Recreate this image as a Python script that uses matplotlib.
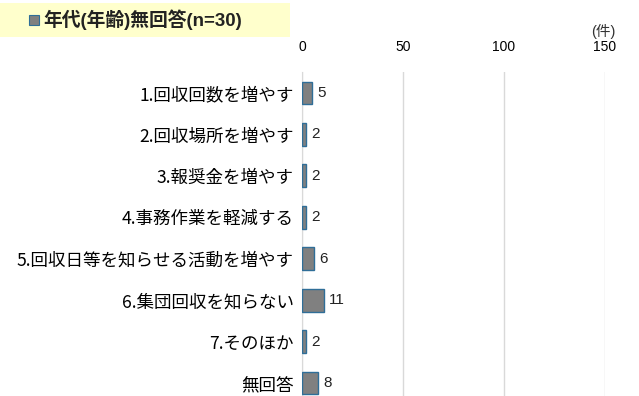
import matplotlib
matplotlib.use("Agg")
import matplotlib.pyplot as plt

plt.rcParams['font.family'] = ['Liberation Sans', 'Noto Sans CJK JP', 'DejaVu Sans']

categories = ['1.回収回数を増やす', '2.回収場所を増やす', '3.報奨金を増やす', '4.事務作業を軽減する',
              '5.回収日等を知らせる活動を増やす', '6.集団回収を知らない', '7.そのほか', '無回答']
values = [5, 2, 2, 2, 6, 11, 2, 8]
ticks = [0, 50, 100, 150]

fig = plt.figure(figsize=(6.39, 3.96), dpi=100)
ax = fig.add_axes([302 / 639, 1 - 403.7 / 396, 303 / 639, 331.4 / 396])

pos = list(range(len(categories)))
ax.barh(pos, values, height=0.55, color='#808080', edgecolor='#2F6E98', linewidth=1.0, zorder=3)
for p, v in zip(pos, values):
    ax.text(v + 2.5, p, str(v), va='center', ha='left', fontsize=11, color='#222222')

ax.set_ylim(len(categories) - 0.5, -0.5)
ax.set_xlim(0, 150)
ax.set_yticks(pos)
ax.set_yticklabels(categories, fontsize=12.6, family=['Noto Sans CJK JP', 'DejaVu Sans'])
ax.set_xticks(ticks)
ax.set_xticklabels([str(t) for t in ticks], fontsize=10)
ax.xaxis.tick_top()
ax.tick_params(axis='both', length=0)
ax.tick_params(axis='x', pad=13)
ax.tick_params(axis='y', pad=6)
ax.grid(axis='x', color='#D9D9D9', linewidth=1, zorder=0)
for s in ['top', 'right', 'bottom']:
    ax.spines[s].set_visible(False)
ax.spines['left'].set_color('#D9D9D9')

fig.text(603 / 639, 1 - 31 / 396, '(件)', ha='center', va='center', fontsize=10.5, color='#333333')

# legend-like title box
fig.patches.append(matplotlib.patches.Rectangle((0, 1 - 37 / 396), 290 / 639, 34 / 396,
                   transform=fig.transFigure, facecolor='#FFFFCC', edgecolor='none'))
fig.patches.append(matplotlib.patches.Rectangle((29 / 639, 1 - 25 / 396), 10 / 639, 10 / 396,
                   transform=fig.transFigure, facecolor='#808080', edgecolor='#2F6E98', linewidth=0.8))
fig.text(43 / 639, 1 - 20 / 396, '年代(年齢)無回答(n=30)', ha='left', va='center',
         fontsize=13.5, fontweight='bold', color='#222222')

fig.savefig('out.png', dpi=100)
